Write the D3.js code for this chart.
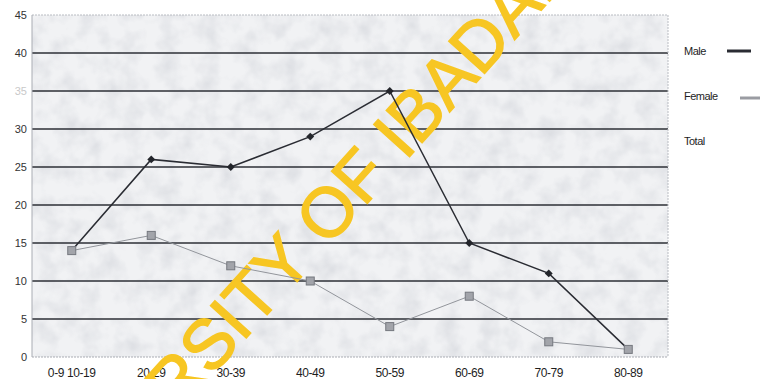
<!DOCTYPE html>
<html>
<head>
<meta charset="utf-8">
<script src="https://cdn.jsdelivr.net/npm/d3@7"></script>
<style>
  html, body { margin: 0; padding: 0; background: #ffffff; }
  svg { display: block; }
</style>
</head>
<body>
<div id="chart"></div>
<script>
// --- Datos ---
const ageGroups = ["10-19", "20-29", "30-39", "40-49", "50-59", "60-69", "70-79", "80-89"];
const tickLabels = ["0-9 10-19", "20-29", "30-39", "40-49", "50-59", "60-69", "70-79", "80-89"];
const maleValues = [14, 26, 25, 29, 35, 15, 11, 1];
const femaleValues = [14, 16, 12, 10, 4, 8, 2, 1];
const yTicks = [0, 5, 10, 15, 20, 25, 30, 35, 40, 45];
const legendNames = ["Male", "Female", "Total"];

// --- Configuración ---
const width = 760, height = 379;
const margin = { top: 15, right: 92, bottom: 22, left: 32 };
const plotW = width - margin.left - margin.right;
const plotH = height - margin.top - margin.bottom;

const svg = d3.select("#chart").append("svg")
    .attr("width", width)
    .attr("height", height);

// textura gris del escaneo
const defs = svg.append("defs");
const filt = defs.append("filter").attr("id", "grain")
    .attr("x", 0).attr("y", 0).attr("width", "100%").attr("height", "100%");
filt.append("feTurbulence")
    .attr("type", "fractalNoise")
    .attr("baseFrequency", 0.05)
    .attr("numOctaves", 3)
    .attr("seed", 4);
filt.append("feColorMatrix")
    .attr("type", "matrix")
    .attr("values", "0 0 0 0 0.55  0 0 0 0 0.57  0 0 0 0 0.62  0 0 0 -1.8 1.1");

const x = d3.scaleBand()
    .domain(ageGroups)
    .range([margin.left, margin.left + plotW]);

const y = d3.scaleLinear()
    .domain([0, 45])
    .range([margin.top + plotH, margin.top]);

// fondo del área de trazado
svg.append("rect")
    .attr("x", margin.left).attr("y", margin.top)
    .attr("width", plotW).attr("height", plotH)
    .attr("fill", "#f1f2f4");
svg.append("rect")
    .attr("x", margin.left).attr("y", margin.top)
    .attr("width", plotW).attr("height", plotH)
    .attr("filter", "url(#grain)")
    .attr("opacity", 0.45);

// líneas de cuadrícula
svg.append("g")
    .selectAll("line")
    .data(yTicks.filter(d => d > 0))
    .join("line")
    .attr("x1", margin.left)
    .attr("x2", margin.left + plotW)
    .attr("y1", d => y(d))
    .attr("y2", d => y(d))
    .attr("stroke", d => d === 45 ? "#b9bcc2" : "#2c2f36")
    .attr("stroke-width", d => d === 45 ? 1 : 1.4)
    .attr("stroke-dasharray", d => d === 45 ? "2,1" : null);

// bordes punteados
svg.append("line")
    .attr("x1", margin.left + plotW).attr("x2", margin.left + plotW)
    .attr("y1", margin.top).attr("y2", margin.top + plotH)
    .attr("stroke", "#b9bcc2").attr("stroke-dasharray", "2,1");
svg.append("line")
    .attr("x1", margin.left).attr("x2", margin.left + plotW)
    .attr("y1", y(0)).attr("y2", y(0))
    .attr("stroke", "#a9acb3").attr("stroke-dasharray", "2,1");
svg.append("line")
    .attr("x1", margin.left).attr("x2", margin.left)
    .attr("y1", margin.top).attr("y2", margin.top + plotH)
    .attr("stroke", "#a9acb3");

// eje Y
svg.append("g")
    .selectAll("text")
    .data(yTicks)
    .join("text")
    .attr("x", margin.left - 5)
    .attr("y", d => y(d) + 4)
    .attr("text-anchor", "end")
    .attr("font-family", "Liberation Sans, Arial, sans-serif")
    .attr("font-size", 11)
    .attr("fill", d => d === 35 ? "#c9c9c9" : "#333")
    .text(d => d);

// eje X
svg.append("g")
    .selectAll("text")
    .data(ageGroups)
    .join("text")
    .attr("x", d => x(d) + x.bandwidth() / 2)
    .attr("y", height - 2)
    .attr("text-anchor", "middle")
    .attr("font-family", "Liberation Sans, Arial, sans-serif")
    .attr("font-size", 12)
    .attr("letter-spacing", -0.4)
    .attr("fill", "#1e1e1e")
    .text((d, i) => tickLabels[i]);

// marca de agua
svg.append("text")
    .attr("transform", "translate(288,254) rotate(-48)")
    .attr("text-anchor", "middle")
    .attr("dy", "0.36em")
    .attr("font-family", "Liberation Sans, Arial, sans-serif")
    .attr("font-size", 70)
    .attr("fill", "#f7c623")
    .attr("stroke", "#f7c623")
    .attr("stroke-width", 1.5)
    .text("UNIVERSITY OF IBADAN");

// series
const line = d3.line()
    .x((d, i) => x(ageGroups[i]) + x.bandwidth() / 2)
    .y(d => y(d));

svg.append("path")
    .datum(femaleValues)
    .attr("d", line)
    .attr("fill", "none")
    .attr("stroke", "#92959b")
    .attr("stroke-width", 1);

svg.append("path")
    .datum(maleValues)
    .attr("d", line)
    .attr("fill", "none")
    .attr("stroke", "#2a2c33")
    .attr("stroke-width", 1.5);

svg.append("g")
    .selectAll("path")
    .data(maleValues)
    .join("path")
    .attr("d", d3.symbol(d3.symbolDiamond2, 40))
    .attr("transform", (d, i) => `translate(${x(ageGroups[i]) + x.bandwidth() / 2},${y(d)})`)
    .attr("fill", "#23252b");

svg.append("g")
    .selectAll("rect")
    .data(femaleValues)
    .join("rect")
    .attr("x", (d, i) => x(ageGroups[i]) + x.bandwidth() / 2 - 4)
    .attr("y", d => y(d) - 4)
    .attr("width", 8)
    .attr("height", 8)
    .attr("fill", "#a2a4aa")
    .attr("stroke", "#75787f")
    .attr("stroke-width", 1);

// leyenda
const legend = svg.append("g")
    .selectAll("g")
    .data(legendNames)
    .join("g")
    .attr("transform", (d, i) => `translate(684,${51 + i * 45})`);

legend.append("text")
    .attr("y", 4)
    .attr("font-family", "Liberation Sans, Arial, sans-serif")
    .attr("font-size", 11)
    .attr("letter-spacing", -0.5)
    .attr("fill", "#1e1e1e")
    .text(d => d);

legend.filter(d => d === "Male").append("line")
    .attr("x1", 43).attr("x2", 67)
    .attr("stroke", "#2a2c33").attr("stroke-width", 3);

legend.filter(d => d === "Female").append("line")
    .attr("x1", 56).attr("x2", 76).attr("y1", 2).attr("y2", 2)
    .attr("stroke", "#9a9ca2").attr("stroke-width", 3);
</script>
</body>
</html>
